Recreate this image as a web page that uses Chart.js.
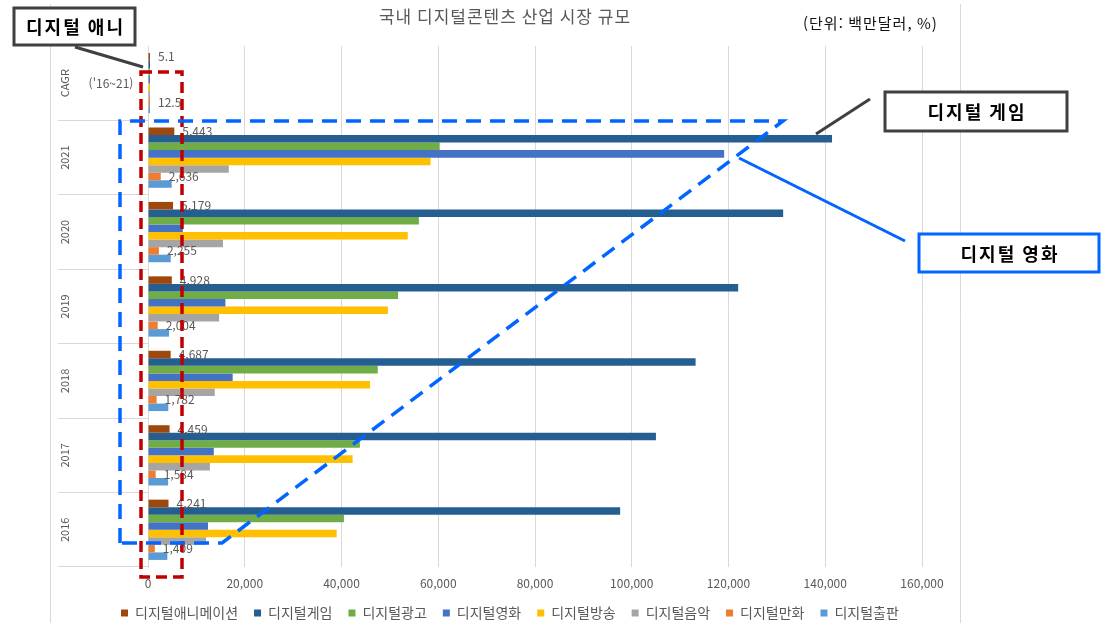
<!DOCTYPE html>
<html lang="ko">
<head>
<meta charset="utf-8">
<title>국내 디지털콘텐츠 산업 시장 규모</title>
<script src="https://cdn.jsdelivr.net/npm/chart.js@4.4.1/dist/chart.umd.min.js"></script>
<style>
    html, body { margin: 0; padding: 0; background: #ffffff; }
    #wrap { position: relative; width: 1101px; height: 623px; }
</style>
</head>
<body>
<div id="wrap"><canvas id="market-chart"></canvas></div>
<script>
// ---- data (백만달러, CAGR row in %) ----
const categories = ['CAGR', '2021', '2020', '2019', '2018', '2017', '2016'];
const cagrPeriod = "('16~21)";

const seriesNames = ['디지털애니메이션', '디지털게임', '디지털광고', '디지털영화', '디지털방송', '디지털음악', '디지털만화', '디지털출판'];
const seriesColors = ['#9e480e', '#255e91', '#70ad47', '#4472c4', '#ffc000', '#a5a5a5', '#ed7d31', '#5b9bd5'];

const animation  = [5.1, 5443, 5179, 4928, 4687, 4459, 4241];
const game       = [7.7, 141400, 131300, 122000, 113200, 105000, 97600];
const ad         = [8.3, 60300, 56000, 51700, 47500, 43800, 40500];
const movie      = [57.1, 119100, 7200, 16000, 17500, 13600, 12400];
const broadcast  = [8.4, 58400, 53700, 49600, 45900, 42300, 39000];
const music      = [6.9, 16700, 15500, 14700, 13800, 12800, 12000];
const comic      = [12.5, 2636, 2255, 2004, 1782, 1584, 1409];
const publishing = [4.2, 4900, 4700, 4350, 4200, 4150, 4000];

const xTicks = [0, 20000, 40000, 60000, 80000, 100000, 120000, 140000, 160000];
const labelledSeries = [0, 6];   // 애니메이션, 만화 carry value labels

const FONT = "'Noto Sans CJK KR', 'Noto Sans', sans-serif";
const GRID = '#d9d9d9';
const TEXT = '#595959';

Chart.defaults.font.family = FONT;

// ---- helpers ----
function fmtValue(v, index){
    return index === 0 ? v.toFixed(1) : v.toLocaleString('en-US');
}

function calloutBox(ctx, x, y, w, h, color, text){
    ctx.lineWidth = 3;
    ctx.strokeStyle = color;
    ctx.setLineDash([]);
    ctx.fillStyle = '#ffffff';
    ctx.fillRect(x, y, w, h);
    ctx.strokeRect(x, y, w, h);
    ctx.fillStyle = '#000000';
    ctx.font = 'bold 18px ' + FONT;
    ctx.letterSpacing = '2px';
    ctx.textAlign = 'center';
    ctx.textBaseline = 'middle';
    ctx.fillText(text, x + w / 2 + 1, y + h / 2 + 1);
    ctx.letterSpacing = '0px';
}

function line(ctx, x1, y1, x2, y2, color, width, dash){
    ctx.beginPath();
    ctx.setLineDash(dash || []);
    ctx.strokeStyle = color;
    ctx.lineWidth = width;
    ctx.moveTo(x1, y1);
    ctx.lineTo(x2, y2);
    ctx.stroke();
}

// ---- plugins ----
const frame = {
    id: 'frame',
    beforeDraw(chart){
        const ctx = chart.ctx;
        ctx.save();
        line(ctx, 50.5, 4, 50.5, 623, GRID, 1);
        line(ctx, 960.5, 4, 960.5, 623, GRID, 1);

        ctx.fillStyle = TEXT;
        ctx.font = '17px ' + FONT;
        ctx.letterSpacing = '1px';
        ctx.textAlign = 'center';
        ctx.textBaseline = 'middle';
        ctx.fillText('국내 디지털콘텐츠 산업 시장 규모', 505, 17);

        ctx.fillStyle = '#111111';
        ctx.font = '15px ' + FONT;
        ctx.textAlign = 'left';
        ctx.fillText('(단위: 백만달러, %)', 803, 23);
        ctx.letterSpacing = '0px';
        ctx.restore();
    }
};

const yLabels = {
    id: 'yLabels',
    afterDraw(chart){
        const ctx = chart.ctx;
        const yScale = chart.scales.y;
        ctx.save();
        ctx.fillStyle = TEXT;
        ctx.textAlign = 'center';
        ctx.textBaseline = 'middle';
        ctx.font = '11px ' + FONT;
        categories.forEach((label, i) => {
            const py = yScale.getPixelForValue(i);
            ctx.save();
            ctx.translate(65, py);
            ctx.rotate(-Math.PI / 2);
            ctx.fillText(label, 0, 0);
            ctx.restore();
        });
        ctx.font = '12px ' + FONT;
        ctx.fillText(cagrPeriod, 111, yScale.getPixelForValue(0));
        ctx.restore();
    }
};

const valueLabels = {
    id: 'valueLabels',
    afterDatasetsDraw(chart){
        const ctx = chart.ctx;
        ctx.save();
        ctx.fillStyle = TEXT;
        ctx.font = '12px ' + FONT;
        ctx.textAlign = 'left';
        ctx.textBaseline = 'middle';
        labelledSeries.forEach(di => {
            const meta = chart.getDatasetMeta(di);
            const values = chart.data.datasets[di].data;
            meta.data.forEach((bar, i) => {
                ctx.fillText(fmtValue(values[i], i), bar.x + 8, bar.y);
            });
        });
        ctx.restore();
    }
};

// hand drawn call-outs on top of the chart
const callouts = {
    id: 'callouts',
    afterDraw(chart){
        const ctx = chart.ctx;
        ctx.save();
        ctx.lineJoin = 'miter';

        // red dashed frame round the animation bars
        ctx.setLineDash([11, 6]);
        ctx.strokeStyle = '#c00000';
        ctx.lineWidth = 3.5;
        ctx.strokeRect(141, 72, 41, 505);

        // blue dashed wedge
        ctx.beginPath();
        ctx.setLineDash([15, 9]);
        ctx.strokeStyle = '#0066ff';
        ctx.lineWidth = 3.5;
        ctx.moveTo(120, 543);
        ctx.lineTo(120, 121);
        ctx.lineTo(783, 121);
        ctx.lineTo(222, 543);
        ctx.closePath();
        ctx.stroke();

        // leader lines
        line(ctx, 75, 47, 143, 67, '#404040', 3);
        line(ctx, 870, 99, 816, 134, '#404040', 3);
        line(ctx, 905, 241, 739, 158, '#0066ff', 3);

        calloutBox(ctx, 14, 8, 121, 37, '#404040', '디지털 애니');
        calloutBox(ctx, 885, 92, 182, 39, '#404040', '디지털 게임');
        calloutBox(ctx, 919, 234, 180, 38, '#0066ff', '디지털 영화');
        ctx.restore();
    }
};

// ---- chart ----
const seriesData = [animation, game, ad, movie, broadcast, music, comic, publishing];

new Chart(document.getElementById('market-chart').getContext('2d'), {
    type: 'bar',
    data: {
        labels: categories,
        datasets: seriesData.map((values, i) => ({
            label: seriesNames[i],
            data: values,
            backgroundColor: seriesColors[i],
            borderWidth: 0,
            minBarLength: 2,
            categoryPercentage: 0.81,
            barPercentage: 1
        }))
    },
    options: {
        indexAxis: 'y',
        responsive: true,
        maintainAspectRatio: false,
        animation: false,
        layout: {
            padding: { left: 105, right: 179, top: 46, bottom: -7 }
        },
        plugins: {
            legend: {
                position: 'bottom',
                align: 'start',
                labels: {
                    boxWidth: 7,
                    boxHeight: 7,
                    padding: 16,
                    color: TEXT,
                    font: { size: 14, family: FONT }
                }
            },
            tooltip: { enabled: false }
        },
        scales: {
            x: {
                min: 0,
                max: 160000,
                afterBuildTicks: (scale) => {
                    scale.ticks = xTicks.map(v => ({ value: v }));
                },
                afterFit: (scale) => { scale.height = 23; },
                ticks: {
                    padding: 9,
                    color: TEXT,
                    font: { size: 12 },
                    callback: (value) => Number(value).toLocaleString('en-US')
                },
                grid: { color: GRID, drawTicks: false },
                border: { display: false }
            },
            y: {
                afterFit: (scale) => { scale.width = 43; },
                ticks: { display: false },
                grid: {
                    offset: true,
                    drawOnChartArea: false,
                    drawTicks: true,
                    tickLength: 90,
                    color: (c) => c.index === 0 ? 'rgba(0,0,0,0)' : GRID
                },
                border: { display: true, color: GRID }
            }
        }
    },
    plugins: [frame, yLabels, valueLabels, callouts]
});
</script>
</body>
</html>
